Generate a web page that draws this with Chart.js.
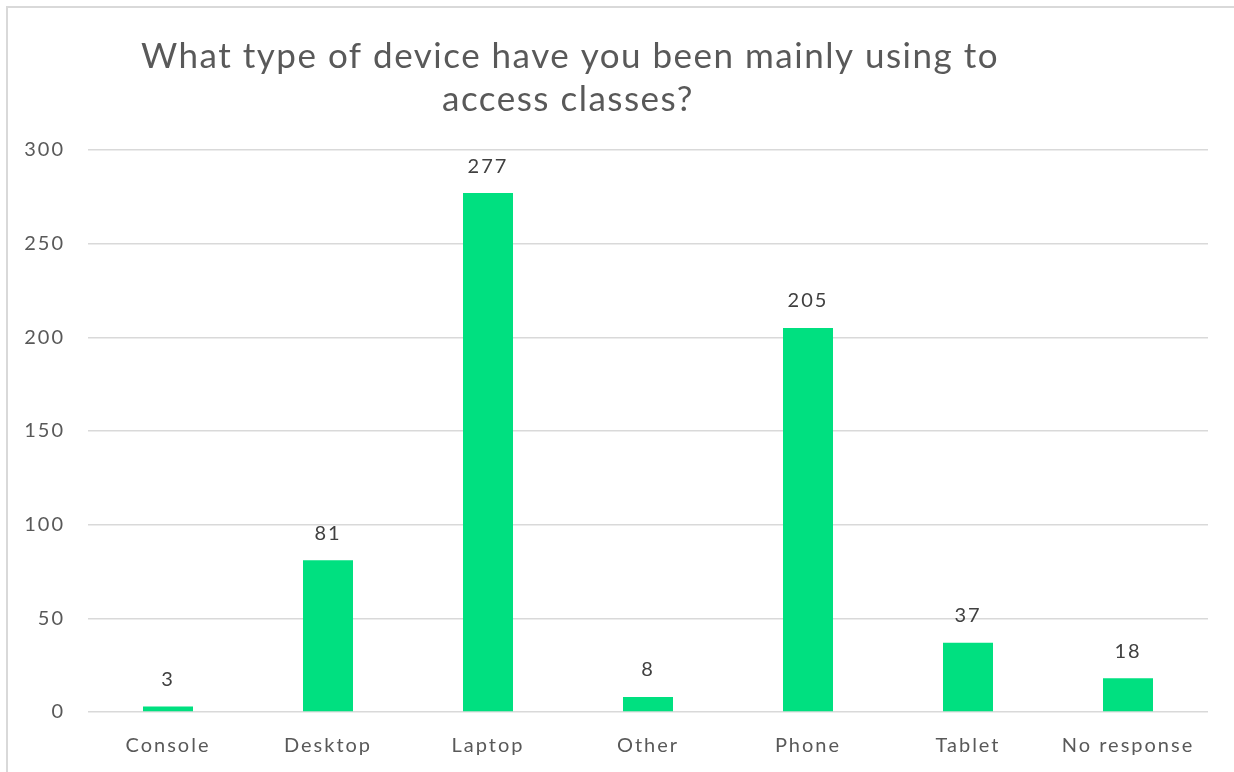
<!DOCTYPE html>
<html>
<head>
<meta charset="utf-8">
<script src="https://cdn.jsdelivr.net/npm/chart.js@4"></script>
<style>
  html, body { margin: 0; padding: 0; background: #fff; overflow: hidden; }
  #frame { position: absolute; left: 6px; top: 6px; width: 1240px; height: 800px;
           border-left: 2px solid #d9d9d9; border-top: 2px solid #d9d9d9; }
  #wrap { position: absolute; left: 0; top: 0; width: 1234px; height: 772px; }
</style>
</head>
<body>
<div id="frame"></div>
<div id="wrap"><canvas id="deviceChart" width="1234" height="772"></canvas></div>
<script>
const categories = ['Console', 'Desktop', 'Laptop', 'Other', 'Phone', 'Tablet', 'No response'];
const counts = [3, 81, 277, 8, 205, 37, 18];
const yTicks = [0, 50, 100, 150, 200, 250, 300];
const titleLines = ['What type of device have you been mainly using to', 'access classes?'];

const FONT = 'Lato, "Open Sans", sans-serif';
const TEXT = '#595959';

// the original font is wider, so space the letters out a bit
const spacing = {
    id: 'spacing',
    beforeInit(chart) { chart.ctx.letterSpacing = '2px'; },
    beforeDraw(chart) { chart.ctx.letterSpacing = '2px'; }
};

// title drawn by hand so it can sit off-centre like the original
const titlePlugin = {
    id: 'titleText',
    afterDraw(chart) {
        const ctx = chart.ctx;
        ctx.save();
        ctx.letterSpacing = '1.5px';
        ctx.fillStyle = TEXT;
        ctx.font = '35px ' + FONT;
        ctx.textAlign = 'center';
        ctx.textBaseline = 'alphabetic';
        ctx.fillText(titleLines[0], 570, 68);
        ctx.fillText(titleLines[1], 568, 111);
        ctx.restore();
    }
};

const valueLabels = {
    id: 'valueLabels',
    afterDatasetsDraw(chart) {
        const ctx = chart.ctx;
        const meta = chart.getDatasetMeta(0);
        ctx.save();
        ctx.fillStyle = '#404040';
        ctx.font = '20px ' + FONT;
        ctx.textAlign = 'center';
        ctx.textBaseline = 'middle';
        meta.data.forEach((bar, i) => {
            ctx.fillText(counts[i], bar.x, bar.y - 27);
        });
        ctx.restore();
    }
};

new Chart(document.getElementById('deviceChart').getContext('2d'), {
    type: 'bar',
    data: {
        labels: categories,
        datasets: [{
            data: counts,
            backgroundColor: '#00e080',
            borderWidth: 0,
            categoryPercentage: 1,
            barPercentage: 0.3125
        }]
    },
    options: {
        responsive: false,
        animation: false,
        layout: { padding: { top: 150, right: 26, bottom: 0, left: 0 } },
        plugins: {
            legend: { display: false },
            tooltip: { enabled: false },
            title: { display: false }
        },
        scales: {
            x: {
                grid: { display: false, drawTicks: false },
                border: { display: false },
                ticks: { color: TEXT, font: { family: FONT, size: 20 }, padding: 22, maxRotation: 0 },
                afterFit(axis) { axis.height = 60; }
            },
            y: {
                min: 0,
                max: 300,
                afterBuildTicks(axis) { axis.ticks = yTicks.map(v => ({ value: v })); },
                grid: { color: '#d9d9d9', lineWidth: 1.5, drawTicks: false },
                border: { display: false },
                ticks: { color: TEXT, font: { family: FONT, size: 20 }, padding: 23 },
                afterFit(axis) { axis.width = 88; }
            }
        }
    },
    plugins: [spacing, titlePlugin, valueLabels]
});
</script>
</body>
</html>
